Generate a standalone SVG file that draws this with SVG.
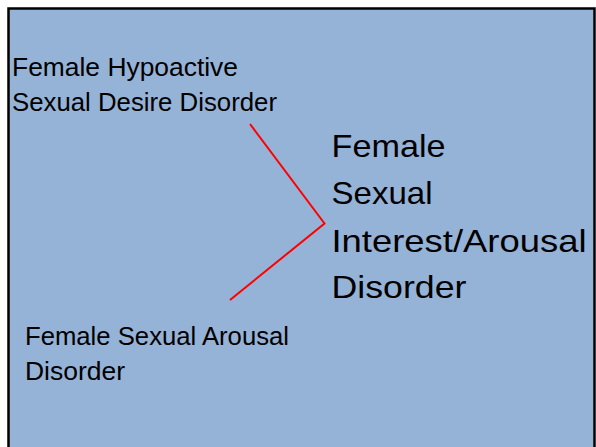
<svg xmlns="http://www.w3.org/2000/svg" width="596" height="447" viewBox="0 0 596 447">
<style>
.t{font-family:"Liberation Sans",Arial,sans-serif;fill:#000}
.s{font-size:25.5px}
.b{font-size:32px}
.c{fill:none;stroke:#ff0000;stroke-width:2}
</style>
<rect x="0" y="0" width="596" height="447" fill="#ffffff"/>
<rect x="8.5" y="8.5" width="586" height="450" fill="#95b3d7" stroke="#000" stroke-width="2.5"/>
<g id="connectors">
<polyline class="c" points="250,124 324.5,223.5 230,300"/>
</g>
<g id="node-hsdd">
<text class="t s" x="12" y="76" textLength="226" lengthAdjust="spacingAndGlyphs">Female Hypoactive</text>
<text class="t s" x="12" y="111" textLength="265" lengthAdjust="spacingAndGlyphs">Sexual Desire Disorder</text>
</g>
<g id="node-fsiad">
<text class="t b" x="331.5" y="157" textLength="114" lengthAdjust="spacingAndGlyphs">Female</text>
<text class="t b" x="331.5" y="203.5" textLength="101" lengthAdjust="spacingAndGlyphs">Sexual</text>
<text class="t b" x="331.5" y="251.5" textLength="255" lengthAdjust="spacingAndGlyphs">Interest/Arousal</text>
<text class="t b" x="331.5" y="298" textLength="135" lengthAdjust="spacingAndGlyphs">Disorder</text>
</g>
<g id="node-fsad">
<text class="t s" x="25" y="345" textLength="264" lengthAdjust="spacingAndGlyphs">Female Sexual Arousal</text>
<text class="t s" x="25" y="380" textLength="100" lengthAdjust="spacingAndGlyphs">Disorder</text>
</g>
</svg>
